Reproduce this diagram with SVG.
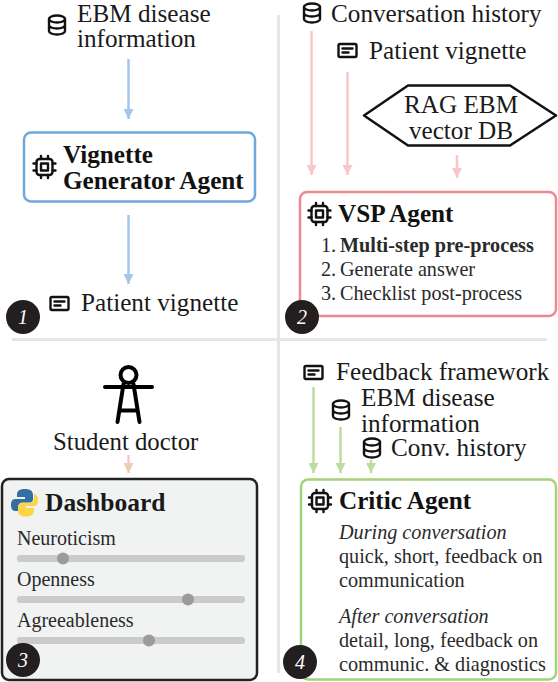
<svg xmlns="http://www.w3.org/2000/svg" width="558" height="682" viewBox="0 0 558 682">
<style>
text{font-family:"Liberation Serif","Times New Roman",serif;fill:#1a1a1a}
.l{font-size:25.200px}
.t{font-size:25.200px;font-weight:bold;fill:#111}
.s{font-size:20.200px;fill:#2a2a2a}
.d{font-size:20px;fill:#2a2a2a}
.n{font-size:20px;font-style:italic;fill:#fff;text-anchor:middle}
.div{stroke:#e6e6e6;stroke-width:3;fill:none}
.box{fill:#fff;stroke-width:2.500}
.ic{fill:none;stroke:#111;stroke-width:2.400;stroke-linecap:round;stroke-linejoin:round}
.badge{fill:#231f20}
.track{fill:#cbcbcb}
.thumb{fill:#9b9b9b}
.b{stroke:#a4c6ea;stroke-width:2.500}
.r{stroke:#fbc6c8;stroke-width:2.500}
.g{stroke:#bcdca0;stroke-width:2.500}
</style>
<defs>
<marker id="ab" markerUnits="userSpaceOnUse" markerWidth="12" markerHeight="10" refX="10" refY="5" orient="auto"><path d="M0 0L10 5L0 10z" fill="#a4c6ea"/></marker>
<marker id="ar" markerUnits="userSpaceOnUse" markerWidth="12" markerHeight="10" refX="10" refY="5" orient="auto"><path d="M0 0L10 5L0 10z" fill="#fbc6c8"/></marker>
<marker id="ag" markerUnits="userSpaceOnUse" markerWidth="12" markerHeight="10" refX="10" refY="5" orient="auto"><path d="M0 0L10 5L0 10z" fill="#bcdca0"/></marker>
<g id="db" class="ic"><ellipse cx="9" cy="4" rx="8" ry="3.500"/><path d="M1 4V16C1 18 4.500 19.500 9 19.500S17 18 17 16V4M1 10C1 12 4.500 13.500 9 13.500S17 12 17 10"/></g>
<g id="doc" class="ic"><rect x="1" y="1" width="18" height="13" rx="1.500"/><path d="M5 5.500H15M5 9.500H11"/></g>
<g id="chip" class="ic"><rect x="4" y="4" width="16" height="16" rx="3"/><rect x="8.500" y="8.500" width="7" height="7"/><path d="M8.500 1V4M15.500 1V4M8.500 20V23M15.500 20V23M1 8.500H4M1 15.500H4M20 8.500H23M20 15.500H23"/></g>
</defs>
<g id="dividers"><path class="div" d="M278.500 15V673M12 339.500H547"/></g>
<g id="connectors">
<path class="b" d="M128.500 59V119" marker-end="url(#ab)"/>
<path class="b" d="M128.500 215V284" marker-end="url(#ab)"/>
<path class="r" d="M311.500 31V175" marker-end="url(#ar)"/>
<path class="r" d="M347.500 72V175" marker-end="url(#ar)"/>
<path class="r" d="M457 155V178" marker-end="url(#ar)"/>
<path class="r" d="M128.500 455V473" marker-end="url(#ar)"/>
<path d="M125 466L128.500 472L132 466z" fill="#d5d8a0"/>
<path class="g" d="M313.500 387V473" marker-end="url(#ag)"/>
<path class="g" d="M340.500 427V473" marker-end="url(#ag)"/>
<path class="g" d="M371 460V473" marker-end="url(#ag)"/>
</g>
<g id="ebm-1"><use href="#db" x="48" y="15"/><text class="l" x="77" y="21.500">EBM disease</text><text class="l" x="77" y="47">information</text></g>
<g id="vignette-agent"><rect class="box" x="24" y="132.500" width="231" height="69" rx="7" stroke="#6fa8dc"/><use href="#chip" x="32.500" y="155"/><text class="t" x="63" y="163">Vignette</text><text class="t" x="63" y="188.500">Generator Agent</text></g>
<g id="vignette-1"><use href="#doc" x="49.500" y="296"/><text class="l" x="81" y="311">Patient vignette</text></g>
<g id="badge-1"><circle class="badge" cx="23" cy="317" r="17"/><text class="n" x="23" y="324">1</text></g>
<g id="history-2"><use href="#db" x="303" y="3"/><text class="l" x="331" y="21.500">Conversation history</text></g>
<g id="vignette-2"><use href="#doc" x="337.500" y="43"/><text class="l" x="369" y="59">Patient vignette</text></g>
<g id="rag"><path d="M364 115.500L408 85.500H510L556 115.500L510 145.500H408Z" fill="#fff" stroke="#111" stroke-width="2.500" stroke-linejoin="round"/><text class="l" x="461" y="112.500" text-anchor="middle">RAG EBM</text><text class="l" x="461" y="138.500" text-anchor="middle">vector DB</text></g>
<g id="vsp-agent"><rect class="box" x="300" y="192" width="256" height="124" rx="7" stroke="#ee8891"/><use href="#chip" x="307.500" y="202"/><text class="t" x="338" y="222">VSP Agent</text>
<text class="s" x="321" y="252">1.</text><text class="s" x="340" y="252" font-weight="bold">Multi-step pre-process</text>
<text class="s" x="321" y="276">2.</text><text class="s" x="340" y="276">Generate answer</text>
<text class="s" x="321" y="300">3.</text><text class="s" x="340" y="300">Checklist post-process</text></g>
<g id="badge-2"><circle class="badge" cx="302" cy="317" r="17"/><text class="n" x="302" y="324">2</text></g>
<g id="student"><g fill="none" stroke="#000" stroke-width="4" stroke-linecap="round" stroke-linejoin="round"><circle cx="128.500" cy="375" r="8"/><path d="M105 387H152M123.500 384L117.500 422M133.500 384L139.500 422M120 410.500H137"/></g><text class="l" x="53" y="450" style="font-size:24.800px">Student doctor</text></g>
<g id="dashboard"><rect x="2" y="479" width="255" height="201" rx="7" fill="#f1f3f3" stroke="#222" stroke-width="2.500"/>
<path d="M25 489C19 489 17 491 17 495V497H25V499H15C12 499 11 502 11 505C11 509 12.500 511 15 511H18V507C18 504 20 502.500 23 502.500H30C32 502.500 33 501 33 499V495C33 491 30 489 25 489Z" fill="#366f9f"/>
<path d="M26 516.500C32 516.500 34 514 34 510V508H26V506H34C37 506 38 503 38 500C38 496 36.500 494 34 494V498C34 502 32 503 29 503H22C19.500 503 18 505 18 507V511C18 514.500 21 516.500 26 516.500Z" fill="#fdd444"/>
<text x="45" y="511" font-size="25.500" font-weight="bold">Dashboard</text>
<text class="d" x="17" y="545">Neuroticism</text><rect class="track" x="17" y="555" width="228" height="7" rx="3"/><circle class="thumb" cx="63" cy="558.500" r="6"/>
<text class="d" x="17" y="586">Openness</text><rect class="track" x="17" y="596" width="228" height="7" rx="3"/><circle class="thumb" cx="188" cy="599.500" r="6"/>
<text class="d" x="17" y="627">Agreeableness</text><rect class="track" x="17" y="637" width="228" height="7" rx="3"/><circle class="thumb" cx="149" cy="640.500" r="6"/></g>
<g id="badge-3"><circle class="badge" cx="23" cy="660" r="17"/><text class="n" x="23" y="667">3</text></g>
<g id="feedback"><use href="#doc" x="303.500" y="365"/><text class="l" x="336" y="380">Feedback framework</text></g>
<g id="ebm-4"><use href="#db" x="332" y="400"/><text class="l" x="361" y="406">EBM disease</text><text class="l" x="361" y="432">information</text></g>
<g id="history-4"><use href="#db" x="363" y="438"/><text class="l" x="391" y="456">Conv. history</text></g>
<g id="critic-agent"><rect class="box" x="301" y="479.500" width="255" height="200" rx="7" stroke="#a3d27a"/><use href="#chip" x="308" y="489"/><text class="t" x="339" y="509">Critic Agent</text>
<text class="s" x="339" y="539" font-style="italic">During conversation</text><text class="s" x="339" y="563">quick, short, feedback on</text><text class="s" x="339" y="587">communication</text>
<text class="s" x="339" y="623" font-style="italic">After conversation</text><text class="s" x="339" y="647">detail, long, feedback on</text><text class="s" x="339" y="671">communic. &amp; diagnostics</text></g>
<g id="badge-4"><circle class="badge" cx="300" cy="662" r="17"/><text class="n" x="300" y="669">4</text></g>
</svg>
